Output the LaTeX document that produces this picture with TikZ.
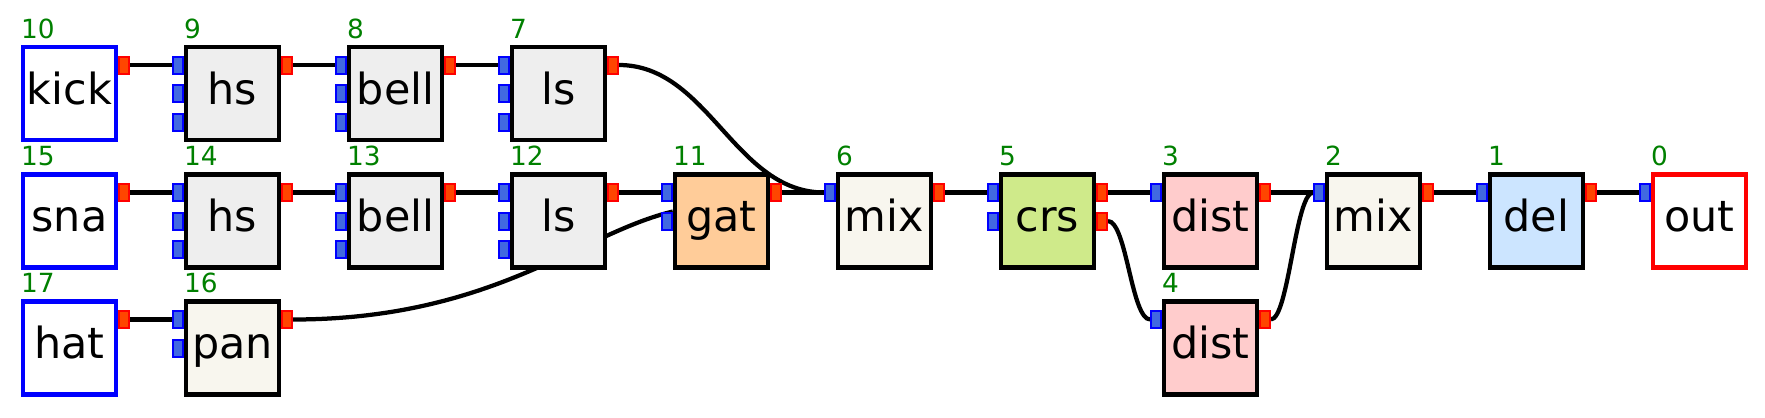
\documentclass[tikz,border=0pt]{standalone}
\usepackage{fontspec}
\setmainfont{DejaVu Sans}
\usetikzlibrary{backgrounds}
\definecolor{portin}{HTML}{4169E1}
\definecolor{portout}{HTML}{FF4500}
\definecolor{numgreen}{HTML}{008000}
\definecolor{fxgray}{HTML}{EEEEEE}
\definecolor{mixcream}{HTML}{F8F6EE}
\definecolor{gatpeach}{HTML}{FFCC99}
\definecolor{crsgreen}{HTML}{CFEA8A}
\definecolor{distpink}{HTML}{FFCCCC}
\definecolor{delblue}{HTML}{CCE5FF}
\begin{document}
\begin{tikzpicture}[
        box/.style={rectangle, draw, line width=0.09cm, minimum size=1.86cm, inner sep=0, text height=0.64cm, text depth=0.21cm, font=\fontsize{24.4}{29}\selectfont},
        src/.style={box, draw=blue, fill=white},
        sink/.style={box, draw=red, fill=white},
        inport/.style={rectangle, draw=blue, fill=portin, line width=0.04cm, minimum width=0.19cm, minimum height=0.34cm, inner sep=0, anchor=east},
        outport/.style={rectangle, draw=red, fill=portout, line width=0.04cm, minimum width=0.19cm, minimum height=0.34cm, inner sep=0, anchor=west},
        num/.style={anchor=base west, inner sep=0, text=numgreen, font=\fontsize{15}{18}\selectfont},
        wire/.style={line width=0.085cm}
    ]
        \useasboundingbox (0,0) rectangle (35.3,-8.34);

        % Kick row
        \node[src] (kick) at (1.39,-1.87) {kick};
        \node[box, fill=fxgray] (hs_k) at (4.65,-1.87) {hs};
        \node[box, fill=fxgray] (bell_k) at (7.91,-1.87) {bell};
        \node[box, fill=fxgray] (ls_k) at (11.17,-1.87) {ls};

        % Snare row
        \node[src] (sna) at (1.39,-4.42) {sna};
        \node[box, fill=fxgray] (hs_s) at (4.65,-4.42) {hs};
        \node[box, fill=fxgray] (bell_s) at (7.91,-4.42) {bell};
        \node[box, fill=fxgray] (ls_s) at (11.17,-4.42) {ls};
        \node[box, fill=gatpeach] (gat) at (14.43,-4.42) {gat};

        % Hat row
        \node[src] (hat) at (1.39,-6.96) {hat};
        \node[box, fill=mixcream] (pan) at (4.65,-6.96) {pan};

        % Master chain
        \node[box, fill=mixcream] (mix_a) at (17.69,-4.42) {mix};
        \node[box, fill=crsgreen] (crs) at (20.95,-4.42) {crs};
        \node[box, fill=distpink] (dist_a) at (24.21,-4.42) {dist};
        \node[box, fill=distpink] (dist_b) at (24.21,-6.96) {dist};
        \node[box, fill=mixcream] (mix_b) at (27.47,-4.42) {mix};
        \node[box, fill=delblue] (del) at (30.73,-4.42) {del};
        \node[sink] (out) at (33.99,-4.42) {out};

        % Numbers
        \node[num] (kick_n) at ([yshift=0.13cm]kick.north west) {10};
        \node[num] (hs_k_n) at ([yshift=0.13cm]hs_k.north west) {9};
        \node[num] (bell_k_n) at ([yshift=0.13cm]bell_k.north west) {8};
        \node[num] (ls_k_n) at ([yshift=0.13cm]ls_k.north west) {7};
        \node[num] (sna_n) at ([yshift=0.13cm]sna.north west) {15};
        \node[num] (hs_s_n) at ([yshift=0.13cm]hs_s.north west) {14};
        \node[num] (bell_s_n) at ([yshift=0.13cm]bell_s.north west) {13};
        \node[num] (ls_s_n) at ([yshift=0.13cm]ls_s.north west) {12};
        \node[num] (gat_n) at ([yshift=0.13cm]gat.north west) {11};
        \node[num] (hat_n) at ([yshift=0.13cm]hat.north west) {17};
        \node[num] (pan_n) at ([yshift=0.13cm]pan.north west) {16};
        \node[num] (mix_a_n) at ([yshift=0.13cm]mix_a.north west) {6};
        \node[num] (crs_n) at ([yshift=0.13cm]crs.north west) {5};
        \node[num] (dist_a_n) at ([yshift=0.13cm]dist_a.north west) {3};
        \node[num] (dist_b_n) at ([yshift=0.13cm]dist_b.north west) {4};
        \node[num] (mix_b_n) at ([yshift=0.13cm]mix_b.north west) {2};
        \node[num] (del_n) at ([yshift=0.13cm]del.north west) {1};
        \node[num] (out_n) at ([yshift=0.13cm]out.north west) {0};

        % Ports
        \node[outport] (kick_o) at ([yshift=0.57cm]kick.east) {};
        \node[inport] (hs_k_i1) at ([yshift=0.57cm]hs_k.west) {};
        \node[inport] (hs_k_i2) at (hs_k.west) {};
        \node[inport] (hs_k_i3) at ([yshift=-0.57cm]hs_k.west) {};
        \node[outport] (hs_k_o) at ([yshift=0.57cm]hs_k.east) {};
        \node[inport] (bell_k_i1) at ([yshift=0.57cm]bell_k.west) {};
        \node[inport] (bell_k_i2) at (bell_k.west) {};
        \node[inport] (bell_k_i3) at ([yshift=-0.57cm]bell_k.west) {};
        \node[outport] (bell_k_o) at ([yshift=0.57cm]bell_k.east) {};
        \node[inport] (ls_k_i1) at ([yshift=0.57cm]ls_k.west) {};
        \node[inport] (ls_k_i2) at (ls_k.west) {};
        \node[inport] (ls_k_i3) at ([yshift=-0.57cm]ls_k.west) {};
        \node[outport] (ls_k_o) at ([yshift=0.57cm]ls_k.east) {};

        \node[outport] (sna_o) at ([yshift=0.57cm]sna.east) {};
        \node[inport] (hs_s_i1) at ([yshift=0.57cm]hs_s.west) {};
        \node[inport] (hs_s_i2) at (hs_s.west) {};
        \node[inport] (hs_s_i3) at ([yshift=-0.57cm]hs_s.west) {};
        \node[outport] (hs_s_o) at ([yshift=0.57cm]hs_s.east) {};
        \node[inport] (bell_s_i1) at ([yshift=0.57cm]bell_s.west) {};
        \node[inport] (bell_s_i2) at (bell_s.west) {};
        \node[inport] (bell_s_i3) at ([yshift=-0.57cm]bell_s.west) {};
        \node[outport] (bell_s_o) at ([yshift=0.57cm]bell_s.east) {};
        \node[inport] (ls_s_i1) at ([yshift=0.57cm]ls_s.west) {};
        \node[inport] (ls_s_i2) at (ls_s.west) {};
        \node[inport] (ls_s_i3) at ([yshift=-0.57cm]ls_s.west) {};
        \node[outport] (ls_s_o) at ([yshift=0.57cm]ls_s.east) {};
        \node[inport] (gat_i1) at ([yshift=0.57cm]gat.west) {};
        \node[inport] (gat_i2) at (gat.west) {};
        \node[outport] (gat_o) at ([yshift=0.57cm]gat.east) {};

        \node[outport] (hat_o) at ([yshift=0.57cm]hat.east) {};
        \node[inport] (pan_i1) at ([yshift=0.57cm]pan.west) {};
        \node[inport] (pan_i2) at (pan.west) {};
        \node[outport] (pan_o) at ([yshift=0.57cm]pan.east) {};

        \node[inport] (mix_a_i) at ([yshift=0.57cm]mix_a.west) {};
        \node[outport] (mix_a_o) at ([yshift=0.57cm]mix_a.east) {};
        \node[inport] (crs_i1) at ([yshift=0.57cm]crs.west) {};
        \node[inport] (crs_i2) at (crs.west) {};
        \node[outport] (crs_o1) at ([yshift=0.57cm]crs.east) {};
        \node[outport] (crs_o2) at (crs.east) {};
        \node[inport] (dist_a_i) at ([yshift=0.57cm]dist_a.west) {};
        \node[outport] (dist_a_o) at ([yshift=0.57cm]dist_a.east) {};
        \node[inport] (dist_b_i) at ([yshift=0.57cm]dist_b.west) {};
        \node[outport] (dist_b_o) at ([yshift=0.57cm]dist_b.east) {};
        \node[inport] (mix_b_i) at ([yshift=0.57cm]mix_b.west) {};
        \node[outport] (mix_b_o) at ([yshift=0.57cm]mix_b.east) {};
        \node[inport] (del_i) at ([yshift=0.57cm]del.west) {};
        \node[outport] (del_o) at ([yshift=0.57cm]del.east) {};
        \node[inport] (out_i) at ([yshift=0.57cm]out.west) {};

        % Wires
        \begin{pgfonlayer}{background}
        \draw[wire] (kick_o.east) -- (hs_k_i1.west);
        \draw[wire] (hs_k_o.east) -- (bell_k_i1.west);
        \draw[wire] (bell_k_o.east) -- (ls_k_i1.west);
        \draw[wire] (ls_k_o.east) .. controls +(1.8,0) and +(-1.8,0) .. (mix_a_i.west);
        \draw[wire] (sna_o.east) -- (hs_s_i1.west);
        \draw[wire] (hs_s_o.east) -- (bell_s_i1.west);
        \draw[wire] (bell_s_o.east) -- (ls_s_i1.west);
        \draw[wire] (ls_s_o.east) -- (gat_i1.west);
        \draw[wire] (hat_o.east) -- (pan_i1.west);
        \draw[wire] (pan_o.east) .. controls +(4,0) and +(-1.84,-0.44) .. (gat_i2.north east);
        \draw[wire] (gat_o.east) -- (mix_a_i.west);
        \draw[wire] (mix_a_o.east) -- (crs_i1.west);
        \draw[wire] (crs_o1.east) -- (dist_a_i.west);
        \draw[wire] (crs_o2.east) .. controls +(0.38,0) and +(-0.38,0) .. (dist_b_i.west);
        \draw[wire] (dist_a_o.east) -- (mix_b_i.west);
        \draw[wire] (dist_b_o.east) .. controls +(0.36,0) and +(-0.36,0) .. (mix_b_i.west);
        \draw[wire] (mix_b_o.east) -- (del_i.west);
        \draw[wire] (del_o.east) -- (out_i.west);
        \end{pgfonlayer}
    \end{tikzpicture}
\end{document}
